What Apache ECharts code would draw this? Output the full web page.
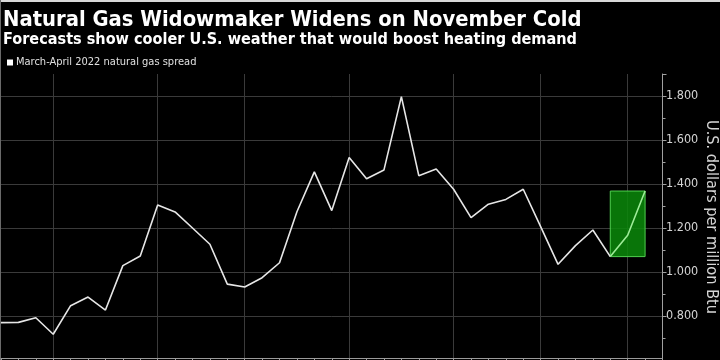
<!DOCTYPE html>
<html>
<head>
<meta charset="utf-8">
<script src="https://cdn.jsdelivr.net/npm/echarts@6/dist/echarts.min.js"></script>
<style>
html,body{margin:0;padding:0;background:#000;}
#chart{width:720px;height:360px;}
</style>
</head>
<body>
<div id="chart"></div>
<script>
// ---- data ----
const titleText = 'Natural Gas Widowmaker Widens on November Cold';
const subtitleText = 'Forecasts show cooler U.S. weather that would boost heating demand';
const seriesName = 'March-April 2022 natural gas spread';
const axisName = 'U.S. dollars per million Btu';

// observation slots (the last slot is empty axis space after the latest point)
const categories = ['1','2','3','4','5','6','7','8','9','10','11','12','13','14','15','16','17','18','19','20',
  '21','22','23','24','25','26','27','28','29','30','31','32','33','34','35','36','37','38','39'];
const spread = [0.770, 0.771, 0.792, 0.717, 0.847, 0.886, 0.827, 1.029, 1.073, 1.305,
  1.273, 1.200, 1.126, 0.945, 0.932, 0.974, 1.042, 1.274, 1.455, 1.279,
  1.520, 1.424, 1.464, 1.797, 1.438, 1.468, 1.376, 1.247, 1.308, 1.330,
  1.376, 1.206, 1.035, 1.120, 1.191, 1.070, 1.167, 1.368];
const yTickValues = [0.8, 1.0, 1.2, 1.4, 1.6, 1.8];
// index where the highlighted recent move starts
const highlightStart = 35;
// slots that carry a vertical gridline
const gridSlots = [3, 9, 14, 20, 26, 31, 36];

// ---- chart ----
const FONT = "'DejaVu Sans Condensed', 'DejaVu Sans', sans-serif";
const recent = spread.slice(highlightStart);
const boxLow = Math.min(...recent);
const boxHigh = Math.max(...recent);
const earlyPart = spread.map((v, i) => (i <= highlightStart ? v : null));
const recentPart = spread.map((v, i) => (i >= highlightStart ? v : null));

const chart = echarts.init(document.getElementById('chart'), null, {renderer: 'canvas'});
chart.setOption({
  backgroundColor: '#000',
  animation: false,
  graphic: [
    {type: 'rect', left: 0, top: 0, shape: {width: 720, height: 2}, style: {fill: '#d8d8d8'}, silent: true},
    {type: 'rect', left: 0, top: 0, shape: {width: 1, height: 360}, style: {fill: '#6a6a6a'}, silent: true}
  ],
  title: [
    {text: titleText, left: -2, top: 4, textStyle: {color: '#fff', fontFamily: FONT, fontWeight: 'bold', fontSize: 21.8}},
    {text: subtitleText, left: -2, top: 27, textStyle: {color: '#fff', fontFamily: FONT, fontWeight: 'bold', fontSize: 16.1}}
  ],
  legend: {
    left: 7, top: 57, padding: 0, itemWidth: 6, itemHeight: 6, itemGap: 4,
    data: [{name: seriesName, icon: 'rect', itemStyle: {color: '#fff'}}],
    textStyle: {color: '#e0e0e0', fontFamily: FONT, fontSize: 11, padding: [0, 0, 0, -2]}
  },
  grid: {left: 1, right: 57.5, top: 74, bottom: 0, containLabel: false, outerBoundsMode: 'none'},
  xAxis: {
    type: 'category', data: categories, boundaryGap: false, offset: -2,
    axisLine: {show: true, lineStyle: {color: '#9a9a9a', width: 1}},
    axisTick: {show: true, interval: 0, length: 3, lineStyle: {color: '#9a9a9a'}},
    axisLabel: {show: false},
    splitLine: {show: true, interval: (i) => gridSlots.includes(i), lineStyle: {color: '#3a3a3a', width: 1}}
  },
  yAxis: {
    type: 'value', position: 'right', min: 0.6, max: 1.9, interval: 0.2,
    name: axisName, nameLocation: 'middle', nameRotate: -90, nameGap: 40.5, nameMoveOverlap: false,
    nameTextStyle: {color: '#d4d4d4', fontFamily: FONT, fontSize: 16.2},
    axisLine: {show: true, lineStyle: {color: '#a0a0a0'}},
    axisTick: {show: true, length: 4, lineStyle: {color: '#a0a0a0'}},
    minorTick: {show: true, splitNumber: 2, length: 3, lineStyle: {color: '#a0a0a0'}},
    axisLabel: {
      color: '#d4d4d4', fontFamily: FONT, fontSize: 12.5, margin: 3.5,
      showMaxLabel: false, showMinLabel: false,
      formatter: (v) => yTickValues.some(t => Math.abs(t - v) < 1e-6) ? v.toFixed(3) : ''
    },
    splitLine: {show: true, showMaxLine: false, lineStyle: {color: '#3a3a3a', width: 1}}
  },
  series: [{
    name: seriesName, type: 'line', data: earlyPart, symbol: 'none', smooth: false,
    itemStyle: {color: '#e6e6e6'},
    lineStyle: {width: 1.6, color: '#e6e6e6'},
    markArea: {
      silent: true,
      itemStyle: {color: 'rgba(10,138,10,0.85)', borderColor: '#4fd04f', borderWidth: 1},
      data: [[
        {xAxis: categories[highlightStart], yAxis: boxLow},
        {xAxis: categories[spread.length - 1], yAxis: boxHigh}
      ]]
    }
  }, {
    name: 'recent', type: 'line', data: recentPart, symbol: 'none', smooth: false, z: 3,
    itemStyle: {color: '#9eec98'},
    lineStyle: {width: 1.6, color: '#9eec98'}
  }]
});
</script>
</body>
</html>
